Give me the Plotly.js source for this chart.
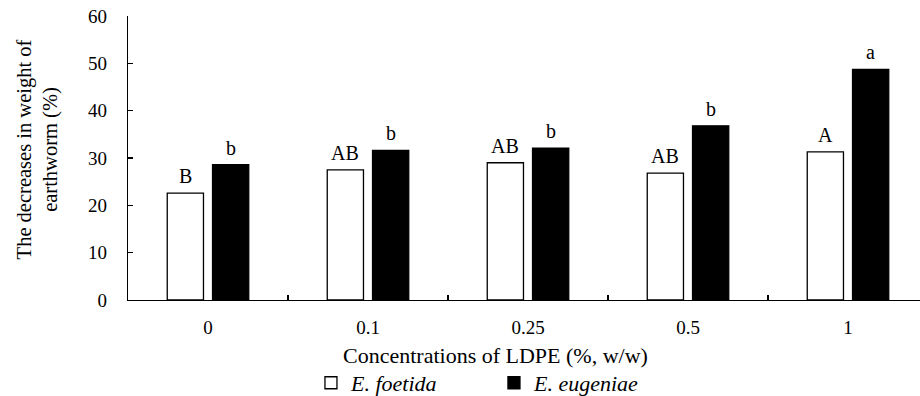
<!DOCTYPE html>
<html>
<head>
<meta charset="utf-8">
<script src="https://cdn.plot.ly/plotly-3.0.1.min.js"></script>
<style>
  html, body { margin: 0; padding: 0; background: #fff; }
  #chart { width: 920px; height: 396px; }
</style>
</head>
<body>
<div id="chart"></div>
<script>
// LDPE concentration levels (%, w/w)
const concentrations = ['0', '0.1', '0.25', '0.5', '1'];

// Weight decrease of each earthworm species (%)
const foetidaValues = [22.6, 27.5, 29.0, 26.8, 31.3];
const eugeniaeValues = [28.6, 31.6, 32.1, 36.8, 48.7];

// Significance letters shown above the bars
const foetidaLetters = ['B', 'AB', 'AB', 'AB', 'A'];
const eugeniaeLetters = ['b', 'b', 'b', 'b', 'a'];

const yTicks = [0, 10, 20, 30, 40, 50, 60];

const serif = 'Liberation Serif';

const traces = [
  {
    type: 'bar',
    name: '<i>E. foetida</i>',
    x: concentrations,
    y: foetidaValues,
    marker: { color: '#ffffff', line: { color: '#000000', width: 1.3 } },
    hoverinfo: 'skip'
  },
  {
    type: 'bar',
    name: '<i>E. eugeniae</i>',
    x: concentrations,
    y: eugeniaeValues,
    marker: { color: '#000000', line: { color: '#000000', width: 1.3 } },
    hoverinfo: 'skip'
  }
];

// Letters sit just above each bar, shifted onto the bar's slot within its group
const annotations = [];
concentrations.forEach((c, i) => {
  annotations.push({
    x: i, y: foetidaValues[i], xref: 'x', yref: 'y',
    text: foetidaLetters[i], showarrow: false,
    yanchor: 'bottom', xshift: -22.6, yshift: 4,
    font: { family: serif, size: 20, color: '#000' }
  });
  annotations.push({
    x: i, y: eugeniaeValues[i], xref: 'x', yref: 'y',
    text: eugeniaeLetters[i], showarrow: false,
    yanchor: 'bottom', xshift: 22.6, yshift: 4,
    font: { family: serif, size: 20, color: '#000' }
  });
});

// x-axis caption, placed below the category labels
annotations.push({
  xref: 'paper', yref: 'paper',
  x: 0.4634, y: -0.197,
  xanchor: 'center', yanchor: 'middle',
  showarrow: false,
  text: 'Concentrations of LDPE (%, w/w)',
  font: { family: serif, size: 22, color: '#000' }
});

// y-axis caption, two lines rotated along the left edge
annotations.push({
  xref: 'paper', yref: 'paper',
  x: -0.1143, y: 0.532,
  xanchor: 'center', yanchor: 'middle',
  textangle: -90,
  showarrow: false,
  text: 'The decreases in weight of<br>earthworm (%)',
  font: { family: serif, size: 20.5, color: '#000' }
});

const layout = {
  width: 920,
  height: 396,
  margin: { l: 128, r: 0, t: 16, b: 96 },
  paper_bgcolor: '#ffffff',
  plot_bgcolor: '#ffffff',
  font: { family: serif, size: 19, color: '#000' },
  barmode: 'group',
  bargap: 0.434,
  bargroupgap: 0.2,
  xaxis: {
    type: 'category',
    range: [-0.5, 4.45],
    showline: true,
    linecolor: '#000',
    linewidth: 1.3,
    ticks: 'inside',
    tickson: 'boundaries',
    ticklen: 5,
    tickcolor: '#000',
    tickwidth: 1.3,
    showgrid: false,
    zeroline: false,
    ticklabelstandoff: 10,
    tickfont: { family: serif, size: 19 }
  },
  yaxis: {
    range: [0, 60],
    tickvals: yTicks,
    showline: true,
    linecolor: '#000',
    linewidth: 1.3,
    ticks: 'inside',
    ticklen: 5,
    tickcolor: '#000',
    tickwidth: 1.3,
    showgrid: false,
    zeroline: false,
    ticklabelstandoff: 16,
    tickfont: { family: serif, size: 19 }
  },
  showlegend: true,
  legend: {
    orientation: 'h',
    xref: 'container',
    yref: 'container',
    x: 0.338,
    y: 0.033,
    xanchor: 'left',
    yanchor: 'middle',
    entrywidth: 138,
    entrywidthmode: 'pixels',
    font: { family: serif, size: 22 },
    bgcolor: 'rgba(0,0,0,0)'
  },
  annotations: annotations
};

Plotly.newPlot('chart', traces, layout, { staticPlot: true, displayModeBar: false });
</script>
</body>
</html>
